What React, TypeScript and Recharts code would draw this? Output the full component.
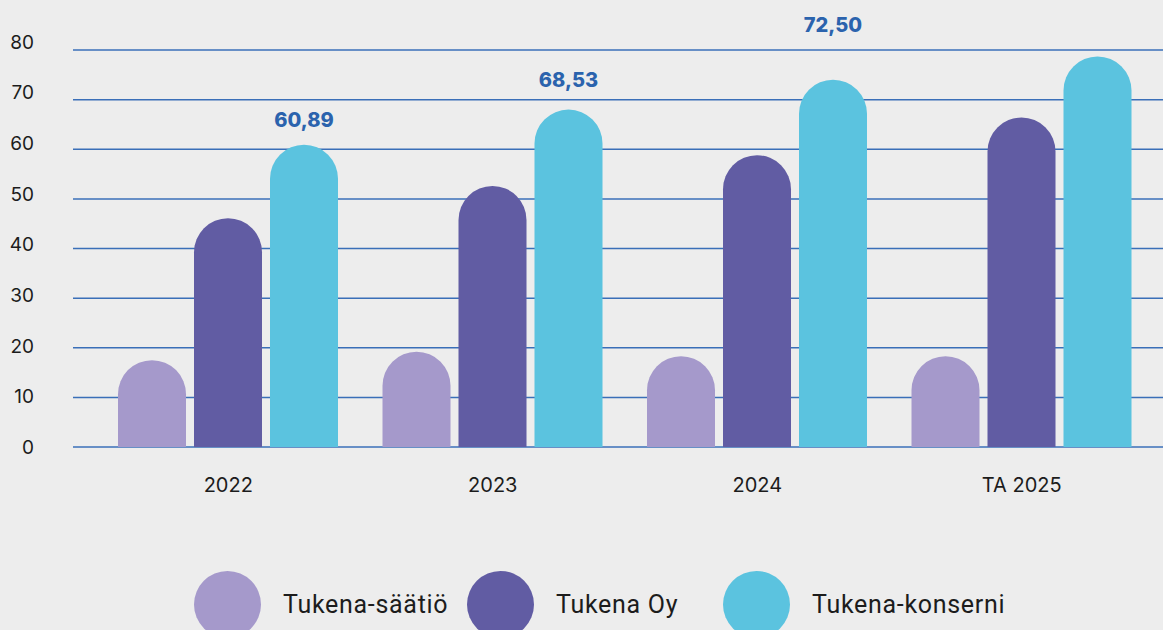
import {
  BarChart,
  Bar,
  XAxis,
  YAxis,
  CartesianGrid,
  Legend,
  LabelList,
} from "recharts";

const years = ["2022", "2023", "2024", "TA 2025"];
const saatio = [17.5, 19.2, 18.3, 18.3];
const tukenaOy = [46.1, 52.6, 58.8, 66.4];
const konserni = [60.9, 68.0, 74.0, 78.7];
const konserniLabels = ["60,89", "68,53", "72,50", ""];
const seriesNames = ["Tukena-säätiö", "Tukena Oy", "Tukena-konserni"];
const yTicks = [0, 10, 20, 30, 40, 50, 60, 70, 80];

const colors = {
  background: "#ededed",
  saatio: "#a599cb",
  oy: "#615ca3",
  konserni: "#5bc3df",
  grid: "#3a6fb8",
  label: "#2b63ad",
  text: "#1c1c1c",
};
const seriesColors = [colors.saatio, colors.oy, colors.konserni];

// extra lift of the value labels above the bar tops (as in the source)
const labelLift = [25, 30, 55, 25];

const data = years.map((year, i) => ({
  year,
  saatio: saatio[i],
  oy: tukenaOy[i],
  konserni: konserni[i],
}));

const YTick = (props: any) => {
  const { x, y, payload } = props;
  return (
    <text
      x={x}
      y={y - payload.value / 10}
      dy="0.36em"
      textAnchor="end"
      fontFamily="Inter"
      fontSize={19}
      fill={colors.text}
    >
      {payload.value}
    </text>
  );
};

const KonserniLabel = (props: any) => {
  const { x, y, width, index } = props;
  const text = konserniLabels[index];
  if (!text) return null;
  return (
    <text
      x={x + width / 2}
      y={y - labelLift[index]}
      dy="0.36em"
      textAnchor="middle"
      fontFamily="Inter"
      fontWeight={800}
      fontSize={20}
      fill={colors.label}
    >
      {text}
    </text>
  );
};

const itemWidths = [273, 256, 330];

const renderLegend = () => (
  <div style={{ display: "flex", paddingLeft: 194 }}>
    {seriesNames.map((name, i) => (
      <div
        key={name}
        style={{
          display: "flex",
          alignItems: "center",
          width: itemWidths[i],
          flexShrink: 0,
        }}
      >
        <svg width={67} height={67} style={{ display: "block" }}>
          <circle cx={33.5} cy={33.5} r={33.5} fill={seriesColors[i]} />
        </svg>
        <span
          style={{
            marginLeft: 22,
            fontFamily: "Roboto",
            fontSize: 25,
            letterSpacing: 0.7,
            color: colors.text,
            whiteSpace: "nowrap",
          }}
        >
          {name}
        </span>
      </div>
    ))}
  </div>
);

export default function App() {
  return (
    <div
      style={{
        position: "fixed",
        top: 0,
        left: 0,
        width: 1163,
        height: 630,
        overflow: "hidden",
        backgroundColor: colors.background,
      }}
    >
      <BarChart
        width={1163}
        height={630}
        data={data}
        margin={{ top: 50, right: 0, bottom: 153, left: 0 }}
        barSize={68}
        barGap={8}
      >
        <CartesianGrid
          vertical={false}
          stroke={colors.grid}
          strokeWidth={1.5}
        />
        <XAxis
          dataKey="year"
          axisLine={false}
          tickLine={false}
          tickMargin={25}
          padding={{ left: 23, right: 9 }}
          tick={{ fontFamily: "Inter", fontSize: 20, fill: colors.text }}
        />
        <YAxis
          domain={[0, 80]}
          ticks={yTicks}
          width={73}
          axisLine={false}
          tickLine={false}
          tickMargin={33}
          tick={<YTick />}
        />
        <Legend
          layout="vertical"
          align="center"
          verticalAlign="middle"
          content={renderLegend}
          wrapperStyle={{ top: 571, left: 0, width: 1163 }}
        />
        <Bar
          dataKey="saatio"
          name={seriesNames[0]}
          fill={colors.saatio}
          radius={[34, 34, 0, 0]}
          isAnimationActive={false}
        />
        <Bar
          dataKey="oy"
          name={seriesNames[1]}
          fill={colors.oy}
          radius={[34, 34, 0, 0]}
          isAnimationActive={false}
        />
        <Bar
          dataKey="konserni"
          name={seriesNames[2]}
          fill={colors.konserni}
          radius={[34, 34, 0, 0]}
          isAnimationActive={false}
        >
          <LabelList dataKey="konserni" content={<KonserniLabel />} />
        </Bar>
      </BarChart>
    </div>
  );
}
